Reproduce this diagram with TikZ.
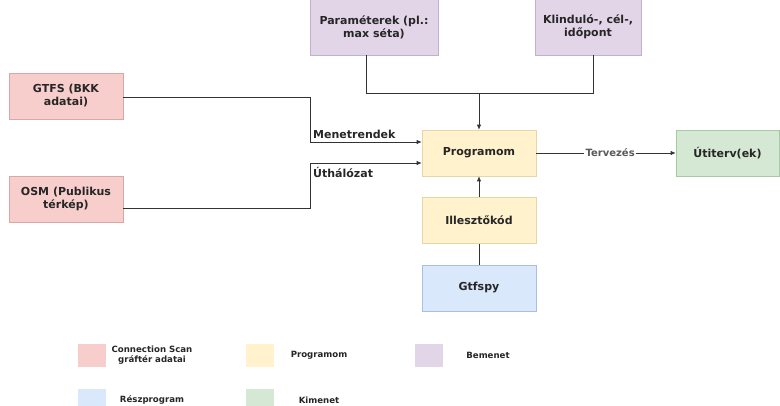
\documentclass[tikz,border=0pt]{standalone}
\usepackage{fontspec}
\setmainfont{DejaVu Sans}
\usetikzlibrary{arrows.meta}
\definecolor{pinkf}{HTML}{F8CECC}\definecolor{pinkd}{HTML}{D8A8A6}
\definecolor{yelf}{HTML}{FFF2CC}\definecolor{yeld}{HTML}{E6D6A6}
\definecolor{purf}{HTML}{E1D5E7}\definecolor{purd}{HTML}{C2B0CC}
\definecolor{bluf}{HTML}{DAE8FC}\definecolor{blud}{HTML}{A9BFDD}
\definecolor{grnf}{HTML}{D5E8D4}\definecolor{grnd}{HTML}{A9C9A6}
\definecolor{lin}{HTML}{333333}
\tikzset{
  box/.style={rectangle, minimum width=114pt, minimum height=46pt, inner sep=0pt, align=center, font=\fontsize{11}{13}\selectfont\bfseries, text=black!85, line width=0.6pt},
  pinkbox/.style={box, fill=pinkf, draw=pinkd},
  yelbox/.style={box, fill=yelf, draw=yeld},
  purbox/.style={box, fill=purf, draw=purd},
  blubox/.style={box, fill=bluf, draw=blud},
  grnbox/.style={box, fill=grnf, draw=grnd},
  conn/.style={draw=lin, line width=0.8pt},
  arr/.style={conn, -{Latex[length=5pt,width=4.5pt]}},
  lbl/.style={font=\fontsize{11}{13}\selectfont\bfseries, text=black!85, inner sep=1pt},
  legsq/.style={rectangle, minimum width=28pt, minimum height=23pt, inner sep=0pt},
  legtxt/.style={font=\fontsize{8.6}{10.2}\selectfont\bfseries, text=black!85, align=center, inner sep=0pt}
}
\begin{document}
\begin{tikzpicture}[x=1pt,y=-1pt]
\useasboundingbox (0,0) rectangle (780,406);
\fill[white] (0,0) rectangle (780,406);
% boxes
\node[pinkbox] (gtfs) at (66,96) {GTFS (BKK\\adatai)};
\node[pinkbox] (osm) at (66,199) {OSM (Publikus\\térkép)};
\node[purbox, minimum width=128pt, minimum height=56pt] (param) at (374,27) {Paraméterek (pl.:\\max séta)};
\node[purbox, minimum width=106pt, minimum height=56pt] (klind) at (588,27) {Klinduló-, cél-,\\időpont};
\node[yelbox] (prog) at (479,153) {Programom};
\node[yelbox] (ill) at (479,220.5) {Illesztőkód};
\node[blubox] (gtfspy) at (479,288) {Gtfspy};
\node[grnbox, minimum width=103pt] (uti) at (727.5,153) {Útiterv(ek)};
% junction coordinates
\coordinate (pj) at (366,93);
\coordinate (kj) at (593,93);
\coordinate (mj) at (479,93);
% connectors
\draw[conn] (gtfs.east |- 0,97) -| (310,142) coordinate (m1);
\draw[arr] (m1) -- (prog.west |- 0,142);
\draw[conn] (osm.east |- 0,208) -| (310,163) coordinate (u1);
\draw[arr] (u1) -- (prog.west |- 0,163);
\node[lbl, anchor=south west] (menet) at (312,140) {Menetrendek};
\node[lbl, anchor=north west] (uth) at (312,166) {Úthálózat};
\draw[conn] (param.south -| pj) -- (pj) -- (kj) -- (klind.south -| kj);
\draw[arr] (mj) -- (prog.north);
\draw[arr] (ill.north) -- (prog.south);
\draw[conn] (gtfspy.north) -- (ill.south);
\draw[arr] (prog.east) -- (uti.west) node[pos=0.53, fill=white, inner sep=1.5pt, font=\fontsize{10}{12}\selectfont\bfseries, text=black!65] (terv) {Tervezés};
% legend
\node[legsq, fill=pinkf] (lp) at (92,355.5) {};
\node[legtxt] (lpt) at (152,355) {Connection Scan\\gráftér adatai};
\node[legsq, fill=yelf] (ly) at (260,355.5) {};
\node[legtxt] (lyt) at (319,355) {Programom};
\node[legsq, fill=purf] (lu) at (429,355.5) {};
\node[legtxt] (lut) at (488,355) {Bemenet};
\node[legsq, fill=bluf] (lb) at (92,400.5) {};
\node[legtxt] (lbt) at (152,400) {Részprogram};
\node[legsq, fill=grnf] (lg) at (260,400.5) {};
\node[legtxt] (lgt) at (319,400) {Kimenet};
\end{tikzpicture}
\end{document}
